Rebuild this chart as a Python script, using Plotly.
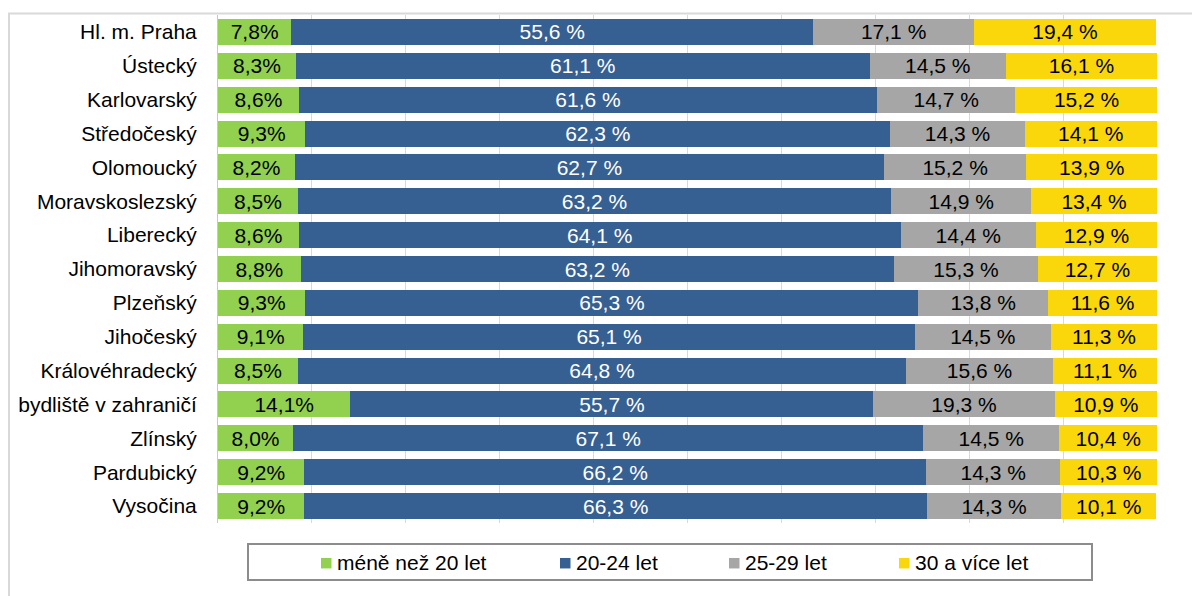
import plotly.graph_objects as go

categories = ["Hl. m. Praha", "Ústecký", "Karlovarský", "Středočeský", "Olomoucký",
              "Moravskoslezský", "Liberecký", "Jihomoravský", "Plzeňský", "Jihočeský",
              "Královéhradecký", "bydliště v zahraničí", "Zlínský", "Pardubický", "Vysočina"]
under20 = [7.8, 8.3, 8.6, 9.3, 8.2, 8.5, 8.6, 8.8, 9.3, 9.1, 8.5, 14.1, 8.0, 9.2, 9.2]
age20_24 = [55.6, 61.1, 61.6, 62.3, 62.7, 63.2, 64.1, 63.2, 65.3, 65.1, 64.8, 55.7, 67.1, 66.2, 66.3]
age25_29 = [17.1, 14.5, 14.7, 14.3, 15.2, 14.9, 14.4, 15.3, 13.8, 14.5, 15.6, 19.3, 14.5, 14.3, 14.3]
age30plus = [19.4, 16.1, 15.2, 14.1, 13.9, 13.4, 12.9, 12.7, 11.6, 11.3, 11.1, 10.9, 10.4, 10.3, 10.1]
series_names = ["méně než 20 let", "20-24 let", "25-29 let", "30 a více let"]

colors = ["#92D050", "#376092", "#A6A6A6", "#F9D70B"]
text_colors = ["#000000", "#FFFFFF", "#000000", "#000000"]
suffixes = ["%", " %", " %", " %"]
FONT = "Arial, Liberation Sans, sans-serif"
FS = 21

# layout geometry (figure pixels)
W, H = 1200, 596
PL, PW = 210, 939          # plot left, width
PT, PB = 6.5, 515          # plot top, bottom
PH = PB - PT


def px(fx):
    return (fx - PL) / PW


def py(fy):
    return (PB - fy) / PH


fig = go.Figure()
for name, vals, col, tcol, suf in zip(series_names, [under20, age20_24, age25_29, age30plus],
                                      colors, text_colors, suffixes):
    fig.add_trace(go.Bar(
        y=categories, x=vals, name=name, orientation="h",
        marker=dict(color=col, line=dict(width=0)),
        text=[f"{v:.1f}".replace(".", ",") + suf for v in vals],
        textposition="inside", insidetextanchor="middle", textangle=0,
        constraintext="none",
        textfont=dict(color=tcol, size=FS, family=FONT),
        hoverinfo="skip", showlegend=False,
    ))

fig.update_layout(
    barmode="stack",
    bargap=0.233,
    width=W, height=H,
    margin=dict(l=PL, r=W - PL - PW, t=PT, b=H - PB, autoexpand=False),
    paper_bgcolor="white", plot_bgcolor="white",
    font=dict(family=FONT, size=FS, color="#000000"),
    xaxis=dict(range=[0, 100], dtick=10, showgrid=True, gridcolor="#D9D9D9", gridwidth=1,
               showticklabels=False, zeroline=False, showline=False, fixedrange=True),
    yaxis=dict(autorange="reversed", showgrid=False, showline=True, linecolor="#C8C8C8",
               linewidth=1, ticks="", ticklabelstandoff=16, automargin=False,
               tickfont=dict(size=FS, family=FONT, color="#000000")),
    showlegend=False,
)

# outer chart-area border
fig.add_shape(type="rect", xref="paper", yref="paper",
              x0=px(1), x1=px(W + 20), y0=py(5), y1=py(H + 20),
              line=dict(color="#D9D9D9", width=2), fillcolor="rgba(0,0,0,0)", layer="below")

# custom legend (box, colour keys, labels)
fig.add_shape(type="rect", xref="paper", yref="paper",
              x0=px(240), x1=px(1084), y0=py(536), y1=py(572),
              line=dict(color="#8C8C8C", width=2), fillcolor="white")
key_x = [313, 552, 721, 891]
for kx, name, col in zip(key_x, series_names, colors):
    fig.add_shape(type="rect", xref="paper", yref="paper",
                  x0=px(kx), x1=px(kx + 10.5), y0=py(550), y1=py(560.5),
                  line=dict(width=0), fillcolor=col)
    fig.add_annotation(xref="paper", yref="paper", x=px(kx + 14), y=py(555),
                       xanchor="left", yanchor="middle", text=name, showarrow=False,
                       font=dict(size=FS, family=FONT, color="#000000"))

fig.write_html("out.html")
